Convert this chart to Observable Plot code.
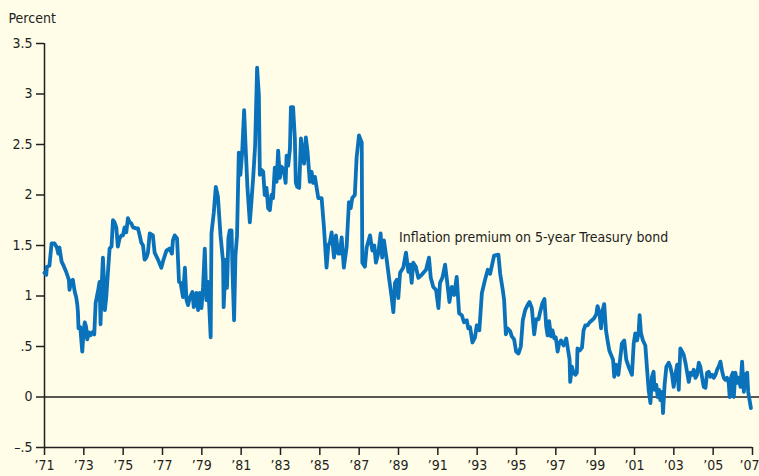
<!DOCTYPE html>
<html>
<head>
<meta charset="utf-8">
<script src="https://cdn.jsdelivr.net/npm/d3@7"></script>
<script src="https://cdn.jsdelivr.net/npm/@observablehq/plot@0.6"></script>
<style>
  html, body { margin: 0; padding: 0; background: #fffce8; }
</style>
</head>
<body>
<div id="chart"></div>
<script>
// Decimal year of each observation
const years = [
  1971.00,1971.09,1971.12,1971.25,1971.36,1971.51,1971.63,1971.70,1971.76,1971.87,1971.97,
  1972.10,1972.24,1972.27,1972.36,1972.44,1972.54,1972.61,1972.67,1972.70,1972.73,1972.82,1972.92,1972.99,
  1973.05,1973.12,1973.17,1973.26,1973.33,1973.43,1973.53,1973.60,1973.66,1973.73,1973.80,1973.85,1973.92,1973.97,
  1974.02,1974.07,1974.14,1974.21,1974.26,1974.31,1974.41,1974.48,1974.56,1974.65,1974.73,1974.82,1974.91,1974.99,
  1975.07,1975.16,1975.24,1975.33,1975.41,1975.50,1975.67,1975.75,1975.84,1975.92,
  1976.01,1976.09,1976.18,1976.26,1976.35,1976.51,1976.60,1976.77,1976.94,
  1977.02,1977.20,1977.36,1977.48,1977.53,1977.62,1977.74,1977.84,1977.92,
  1978.04,1978.14,1978.22,1978.30,1978.38,1978.52,1978.59,1978.72,1978.81,1978.89,1978.98,
  1979.06,1979.15,1979.23,1979.32,1979.45,1979.49,1979.61,1979.71,1979.82,1979.95,
  1980.08,1980.11,1980.22,1980.28,1980.35,1980.42,1980.51,1980.56,1980.64,1980.71,1980.79,1980.88,1980.96,
  1981.05,1981.15,1981.23,1981.32,1981.44,1981.52,1981.61,1981.71,1981.81,1981.90,1981.95,
  1982.03,1982.12,1982.20,1982.29,1982.37,1982.46,1982.54,1982.62,1982.71,1982.80,1982.88,1982.97,
  1983.05,1983.17,1983.26,1983.31,1983.39,1983.48,1983.53,1983.64,1983.73,1983.78,1983.85,1983.95,
  1984.04,1984.12,1984.20,1984.29,1984.38,1984.49,1984.58,1984.66,1984.75,1984.92,
  1985.09,1985.21,1985.34,1985.43,1985.51,1985.60,1985.72,1985.82,1985.93,
  1986.02,1986.11,1986.22,1986.36,1986.48,1986.57,1986.65,1986.78,1986.87,1986.99,
  1987.13,1987.16,1987.29,1987.38,1987.55,1987.67,1987.77,1987.85,1987.97,
  1988.09,1988.17,1988.26,1988.40,1988.53,1988.65,1988.74,1988.82,1988.91,1988.99,
  1989.08,1989.24,1989.38,1989.50,1989.59,1989.67,1989.75,1989.88,
  1990.01,1990.18,1990.40,1990.55,1990.64,1990.77,1990.91,
  1991.03,1991.11,1991.23,1991.37,1991.48,1991.59,1991.71,1991.83,1991.96,
  1992.08,1992.22,1992.33,1992.47,1992.55,1992.64,1992.76,1992.89,1992.98,
  1993.11,1993.24,1993.40,1993.54,1993.66,1993.75,1993.86,
  1994.08,1994.17,1994.31,1994.37,1994.46,1994.54,1994.68,1994.76,1994.88,1994.98,
  1995.10,1995.22,1995.32,1995.44,1995.56,1995.66,1995.78,1995.90,
  1996.00,1996.12,1996.20,1996.32,1996.42,1996.51,1996.58,1996.66,1996.75,1996.83,1996.92,
  1997.00,1997.09,1997.17,1997.26,1997.39,1997.53,1997.60,1997.70,1997.73,1997.82,1997.90,1997.99,
  1998.07,1998.10,1998.21,1998.33,1998.41,1998.50,1998.61,1998.72,1998.84,1998.95,
  1999.06,1999.12,1999.21,1999.30,1999.38,1999.46,1999.55,1999.63,1999.72,1999.80,1999.91,1999.97,
  2000.06,2000.18,2000.36,2000.48,2000.58,2000.70,2000.87,2000.96,
  2001.04,2001.13,2001.21,2001.26,2001.33,2001.43,2001.55,2001.64,2001.72,2001.81,2001.89,2001.97,
  2002.02,2002.11,2002.18,2002.25,2002.31,2002.40,2002.45,2002.53,2002.62,2002.74,2002.82,2002.91,2002.99,
  2003.08,2003.17,2003.25,2003.33,2003.42,2003.50,2003.59,2003.67,2003.76,2003.84,2003.93,
  2004.01,2004.10,2004.18,2004.27,2004.35,2004.44,2004.52,2004.61,2004.69,2004.77,2004.86,2004.95,
  2005.03,2005.12,2005.20,2005.28,2005.37,2005.46,2005.54,2005.62,2005.71,2005.79,2005.84,2005.92,
  2006.00,2006.05,2006.13,2006.22,2006.30,2006.39,2006.47,2006.56,2006.64,2006.73,2006.78,2006.92
];

// Inflation premium on 5-year Treasury bond, percent
const premium = [
  1.23,1.21,1.29,1.30,1.52,1.52,1.48,1.42,1.48,1.34,1.30,
  1.24,1.16,1.06,1.15,1.16,1.04,0.99,0.91,0.84,0.68,0.69,0.45,0.66,
  0.74,0.69,0.57,0.64,0.61,0.64,0.62,0.93,0.99,1.06,1.14,0.72,1.16,1.38,
  1.16,0.86,0.99,1.19,1.33,1.47,1.49,1.75,1.73,1.68,1.49,1.57,1.60,1.60,
  1.68,1.63,1.77,1.73,1.72,1.68,1.67,1.67,1.60,1.53,
  1.50,1.36,1.38,1.43,1.62,1.60,1.43,1.36,1.28,
  1.34,1.45,1.47,1.42,1.55,1.60,1.57,1.14,1.13,
  0.99,1.28,0.96,0.91,0.98,1.04,0.89,1.03,0.86,1.03,0.88,
  1.08,1.47,0.96,1.14,0.59,1.62,1.83,2.08,1.98,1.60,
  1.34,0.89,1.36,1.08,1.57,1.65,1.65,1.24,0.76,1.40,1.60,2.42,2.20,
  2.42,2.84,2.46,2.07,1.73,1.93,2.17,2.49,3.26,2.99,2.20,
  2.25,2.23,2.00,2.07,1.87,1.85,2.00,1.97,2.27,2.13,2.44,2.17,
  2.28,2.25,2.12,2.39,2.29,2.46,2.87,2.87,2.56,2.12,2.08,2.07,
  2.56,2.42,2.31,2.57,2.42,2.13,2.23,2.12,2.18,1.97,
  1.97,1.68,1.28,1.50,1.53,1.63,1.38,1.60,1.42,
  1.42,1.58,1.28,1.48,1.93,1.87,1.97,2.00,2.37,2.59,
  2.52,1.33,1.29,1.48,1.60,1.45,1.50,1.33,1.42,
  1.62,1.38,1.55,1.36,1.16,0.99,0.84,1.13,1.16,0.98,
  1.23,1.28,1.43,1.24,1.31,1.13,1.33,1.29,
  1.18,1.21,1.26,1.38,1.18,1.09,1.06,
  0.88,1.13,1.18,1.31,1.13,0.94,1.09,1.01,1.19,
  0.83,0.81,0.74,0.76,0.68,0.69,0.54,0.59,0.71,
  0.66,1.03,1.16,1.26,1.22,1.30,1.40,
  1.41,1.22,1.05,0.96,0.62,0.68,0.65,0.60,0.57,0.45,
  0.43,0.50,0.76,0.86,0.91,0.94,0.88,0.62,
  0.77,0.77,0.84,0.93,0.97,0.70,0.61,0.75,0.60,0.66,0.58,
  0.59,0.45,0.53,0.56,0.51,0.58,0.49,0.37,0.15,0.30,0.24,0.22,
  0.24,0.48,0.46,0.49,0.66,0.71,0.71,0.74,0.76,0.78,
  0.82,0.90,0.84,0.68,0.86,0.92,0.66,0.56,0.46,0.42,0.37,0.20,
  0.32,0.22,0.53,0.56,0.37,0.30,0.22,0.53,
  0.63,0.56,0.64,0.81,0.63,0.56,0.51,0.27,0.07,-0.06,0.20,0.25,
  0.07,0.12,0.00,0.07,-0.03,0.05,-0.16,0.12,0.30,0.34,0.30,0.22,0.10,
  0.22,0.32,0.07,0.48,0.45,0.42,0.34,0.25,0.15,0.24,0.22,
  0.27,0.19,0.22,0.34,0.30,0.19,0.10,0.09,0.24,0.25,0.20,0.22,
  0.19,0.22,0.27,0.30,0.35,0.25,0.19,0.17,0.19,0.14,0.00,0.20,
  0.24,0.00,0.24,0.14,0.19,0.10,0.35,0.05,0.22,0.24,0.05,-0.11
];

const xTicks = [1971,1973,1975,1977,1979,1981,1983,1985,1987,1989,1991,1993,1995,1997,1999,2001,2003,2005,2007];
const yTicks = [-0.5,0,0.5,1,1.5,2,2.5,3,3.5];
const seriesLabel = "Inflation premium on 5-year Treasury bond";
const unitLabel = "Percent";

const data = years.map((year, i) => ({year, value: premium[i]}));

const ink = "#231f20";
const font = "'Liberation Sans Narrow', 'DejaVu Sans Condensed', 'Roboto', sans-serif";
const fs = 14;

const fmtY = d => d === 0 ? "0" : (d < 0 ? "\u2013" : "") + String(Math.abs(d)).replace(/^0\./, ".");
const fmtX = d => "\u2019" + String(d).slice(2);
const lastTick = xTicks[xTicks.length - 1];

const chart = Plot.plot({
  width: 759,
  height: 476,
  marginLeft: 44,
  marginRight: 7,
  marginTop: 43,
  marginBottom: 29,
  style: {background: "#fffce8", fontFamily: font, fontSize: fs + "px", color: ink},
  x: {domain: [1971, 2007]},
  y: {domain: [-0.5, 3.5]},
  marks: [
    Plot.axisX({ticks: xTicks, tickFormat: d => d === lastTick ? "" : fmtX(d), tickSize: 8, tickPadding: 5, strokeWidth: 1.5, label: null, fontSize: fs}),
    Plot.axisX({ticks: [lastTick], tickFormat: fmtX, tickSize: 0, tickPadding: 13, dx: -3, label: null, fontSize: fs}),
    Plot.axisY({ticks: yTicks, tickFormat: fmtY, tickSize: 8, tickPadding: 4, strokeWidth: 1.5, label: null, fontSize: fs}),
    Plot.ruleX([1971], {y1: -0.5, y2: 3.5, stroke: ink, strokeWidth: 1.5}),
    Plot.ruleY([-0.5], {x1: 1971, x2: 2007, stroke: ink, strokeWidth: 1.5}),
    Plot.ruleY([0], {x1: 1971, x2: 2007.36, stroke: ink, strokeWidth: 1.5}),
    Plot.line(data, {x: "year", y: "value", stroke: "#0a72ba", strokeWidth: 3.8, strokeLinejoin: "round", strokeLinecap: "round"}),
    Plot.text([seriesLabel], {x: 1989.03, y: 1.53, text: d => d, textAnchor: "start", lineAnchor: "bottom", fontSize: fs, fill: ink}),
    Plot.text([unitLabel], {frameAnchor: "top-left", text: d => d, dx: -36, dy: -30, textAnchor: "start", lineAnchor: "top", fontSize: fs, fill: ink})
  ]
});

document.getElementById("chart").appendChild(chart);
</script>
</body>
</html>
